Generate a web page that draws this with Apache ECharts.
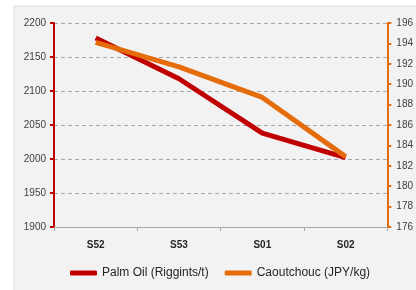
<!DOCTYPE html>
<html><head><meta charset="utf-8">
<script src="https://cdn.jsdelivr.net/npm/echarts@6/dist/echarts.min.js"></script>
<style>html,body{margin:0;padding:0;background:#fff}#c{width:416px;height:290px}</style>
</head><body><div id="c"></div>
<script>
var categories = ['S52', 'S53', 'S01', 'S02'];
var palmOil = [2178, 2118, 2038, 2002];
var caoutchouc = [194.1, 191.7, 188.7, 182.9];
var seriesNames = ['Palm Oil (Riggints/t)', 'Caoutchouc (JPY/kg)'];

var chart = echarts.init(document.getElementById('c'), null, {renderer: 'canvas'});
var font = 'Liberation Sans';
function plain(v) { return String(v); }
chart.setOption({
  animation: false,
  backgroundColor: '#ffffff',
  graphic: [{
    type: 'rect', z: -10, silent: true,
    shape: {x: 14, y: 6, width: 420, height: 300},
    style: {fill: '#f2f2f2', stroke: '#dcdcdc', lineWidth: 1}
  }],
  grid: {left: 54, right: 28, top: 23, bottom: 63},
  legend: {
    bottom: 6, left: 65,
    itemWidth: 27, itemHeight: 5, itemGap: 16,
    icon: 'roundRect',
    textStyle: {fontFamily: font, fontSize: 12, color: '#262626'},
    data: seriesNames
  },
  xAxis: {
    type: 'category', data: categories, boundaryGap: true,
    axisLine: {lineStyle: {color: '#a6a6a6'}},
    axisTick: {show: true, length: 4, lineStyle: {color: '#a6a6a6'}},
    axisLabel: {margin: 13, fontFamily: font, fontSize: 10, fontWeight: 'bold', color: '#262626'}
  },
  yAxis: [{
    type: 'value', min: 1900, max: 2200, interval: 50,
    axisLine: {show: true, lineStyle: {color: '#c00000', width: 2}},
    axisTick: {show: true, length: 4, lineStyle: {color: '#c00000', width: 2}},
    axisLabel: {margin: 8, fontFamily: font, fontSize: 10, color: '#404040', formatter: plain},
    splitLine: {show: true, lineStyle: {color: '#a6a6a6', type: [4, 3], width: 1}}
  }, {
    type: 'value', min: 176, max: 196, interval: 2,
    position: 'right',
    axisLine: {show: true, lineStyle: {color: '#e46c0a', width: 2}},
    axisTick: {show: true, length: 4, lineStyle: {color: '#e46c0a', width: 2}},
    axisLabel: {margin: 9, fontFamily: font, fontSize: 10, color: '#404040', formatter: plain},
    splitLine: {show: false}
  }],
  series: [{
    name: seriesNames[0], type: 'line', yAxisIndex: 0, data: palmOil,
    symbol: 'none', lineStyle: {color: '#c00000', width: 5},
    itemStyle: {color: '#c00000'}, z: 3
  }, {
    name: seriesNames[1], type: 'line', yAxisIndex: 1, data: caoutchouc,
    symbol: 'none', lineStyle: {color: '#e46c0a', width: 5},
    itemStyle: {color: '#e46c0a'}, z: 4
  }]
});
</script></body></html>
